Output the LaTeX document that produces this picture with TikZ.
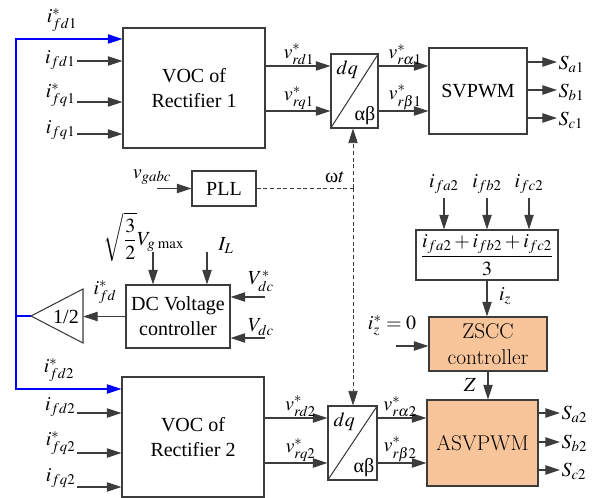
\documentclass[tikz,border=0pt]{standalone}
\usepackage{mathptmx}
\usepackage[no-math]{fontspec}
\setmainfont{Liberation Serif}
\newfontfamily\lmfont{Latin Modern Roman}
\usepackage{tikz}
\usetikzlibrary{arrows.meta,positioning}
\definecolor{zsccorange}{HTML}{F8C49A}
\definecolor{wiregray}{HTML}{3C3C3C}

\begin{document}
\begin{tikzpicture}[x=0.75pt,y=-0.75pt,font=\fontsize{15}{18.75}\selectfont,
  blk/.style={draw=wiregray,line width=0.8pt,align=center,inner sep=0pt},
  lmblk/.style={blk,fill=zsccorange,font=\lmfont\fontsize{16}{20}\selectfont},
  sig/.style={draw=wiregray,line width=0.8pt,-{Triangle[length=11pt,width=7pt]}},
  fbsig/.style={draw=blue,line width=0.8pt,-{Triangle[length=11pt,width=7pt]}},
  wtsig/.style={draw=wiregray,line width=0.7pt,dash pattern=on 3pt off 2pt,-{Triangle[length=11pt,width=7pt]}}]
\useasboundingbox (0,0) rectangle (605,498);
\clip (0,0) rectangle (605,498);
\node[blk,minimum width=106.5pt,minimum height=90pt] (voc1) at (194,88) {VOC of\\Rectifier 1};
\node[blk,minimum width=35.25pt,minimum height=55.5pt] (dq1) at (354.5,91) {};
\node[blk,minimum width=73.5pt,minimum height=64.5pt] (svpwm1) at (478,91) {SVPWM};
\node[blk,minimum width=48pt,minimum height=26.25pt] (pll) at (224,188.5) {PLL};
\node[blk,minimum width=106.5pt,minimum height=37.5pt] (zsum) at (487,255) {$\displaystyle\frac{i_{fa2}+i_{fb2}+i_{fc2}}{3}$};
\node[blk,minimum width=78pt,minimum height=47.25pt] (dcv) at (178,316.5) {DC Voltage\\controller};
\node[lmblk,minimum width=88.5pt,minimum height=40.5pt] (zscc) at (488,344) {ZSCC\\controller};
\node[lmblk,minimum width=83.25pt,minimum height=64.5pt] (asvpwm) at (482.5,443) {ASVPWM};
\node[blk,minimum width=106.5pt,minimum height=90pt] (voc2) at (193,437) {VOC of\\Rectifier 2};
\node[blk,minimum width=36.75pt,minimum height=55.5pt] (dq2) at (352.5,443) {};
% dq / alpha-beta transforms
\foreach \t in {dq1,dq2} {
  \draw[wiregray,line width=0.8pt] (\t.south west) -- (\t.north east);
  \node[anchor=north west,inner sep=0pt] at ([shift={(6,7)}]\t.north west) {$dq$};
  \node[anchor=south east,inner sep=0pt] at ([shift={(-3,-4)}]\t.south east) {αβ};
}
% gain 1/2
\coordinate (gtip) at (31,316);
\coordinate (gin) at (83,316);
\draw[wiregray,line width=0.8pt] (gtip) -- (83,289) -- (83,343) -- cycle;
\node (half) at (66,317) {1/2};
% feedback of i_fd*
\coordinate (fbsplit) at (16,316);
\coordinate (fbtop) at (16,39);
\coordinate (fbbot) at (16,389);
\draw[blue,line width=0.8pt] (gtip) -- (fbsplit);
\draw[fbsig] (fbsplit) -- (fbtop) -- (fbtop -| voc1.west);
\draw[fbsig] (fbsplit) -- (fbbot) -- (fbbot -| voc2.west);
\node at (62,20) {$i^{*}_{fd1}$};
\node at (59,370) {$i^{*}_{fd2}$};
% inputs of the VOC blocks
\foreach \y/\ly/\lbl [count=\k] in {61/60/{i_{fd1}},102/95/{i^{*}_{fq1}},134/130/{i_{fq1}}} {
  \coordinate (vocain\k) at (77,\y);
  \draw[sig] (vocain\k) -- (vocain\k -| voc1.west);
  \node[anchor=east,inner sep=1pt] at (77,\ly) {$\lbl$};
}
\foreach \y/\ly/\lbl [count=\k] in {413/407/{i_{fd2}},453/443/{i^{*}_{fq2}},487/478/{i_{fq2}}} {
  \coordinate (vocbin\k) at (77,\y);
  \draw[sig] (vocbin\k) -- (vocbin\k -| voc2.west);
  \node[anchor=east,inner sep=1pt] at (77,\ly) {$\lbl$};
}
% VOC -> dq -> PWM
\foreach \y/\v/\w [count=\k] in {66/{v^{*}_{rd1}}/{v^{*}_{r\alpha1}},111/{v^{*}_{rq1}}/{v^{*}_{r\beta1}}} {
  \coordinate (dqain\k) at (dq1.west |- 0,\y);
  \draw[sig] (voc1.east |- dqain\k) -- (dqain\k);
  \draw[sig] (dq1.east |- dqain\k) -- (svpwm1.west |- dqain\k);
  \node[anchor=south,inner sep=1pt] at ([xshift=25]voc1.east |- dqain\k) {$\v$};
  \node[anchor=south,inner sep=1pt] at ([xshift=20]dq1.east |- dqain\k) {$\w$};
}
\foreach \y/\v/\w [count=\k] in {418/{v^{*}_{rd2}}/{v^{*}_{r\alpha2}},463/{v^{*}_{rq2}}/{v^{*}_{r\beta2}}} {
  \coordinate (dqbin\k) at (dq2.west |- 0,\y);
  \draw[sig] (voc2.east |- dqbin\k) -- (dqbin\k);
  \draw[sig] (dq2.east |- dqbin\k) -- (asvpwm.west |- dqbin\k);
  \node[anchor=south,inner sep=1pt] at ([xshift=27]voc2.east |- dqbin\k) {$\v$};
  \node[anchor=south,inner sep=1pt] at ([xshift=17]dq2.east |- dqbin\k) {$\w$};
}
% switching signals
\foreach \y/\s in {62/a,90/b,118/c} {
  \coordinate (s\s1) at (557,\y);
  \draw[sig] (svpwm1.east |- s\s1) -- (s\s1);
  \node[anchor=west,inner sep=1pt] at ([yshift=-2]s\s1) {$S_{\s1}$};
}
\foreach \y/\s in {413/a,442/b,470/c} {
  \coordinate (s\s2) at (560,\y);
  \draw[sig] (asvpwm.east |- s\s2) -- (s\s2);
  \node[anchor=west,inner sep=1pt] at ([yshift=-1]s\s2) {$S_{\s2}$};
}
% PLL and angle
\coordinate (vgin) at (157,188.5);
\draw[sig] (vgin) -- (pll.west);
\node at (152,177) {$v_{gabc}$};
\coordinate (wt) at (353,188.5);
\draw[wiregray,line width=0.7pt,dash pattern=on 3pt off 2pt] (pll.east) -- (wt);
\draw[wtsig] (wt) -- (wt |- dq1.south);
\draw[wtsig] (wt) -- (wt |- dq2.north);
\node at (335,177) {ω$t$};
% zero-sequence current loop
\foreach \x/\p in {444/a,487/b,529/c} {
  \coordinate (if\p) at (\x,198);
  \draw[sig] (if\p) -- (if\p |- zsum.north);
  \node at (\x,184) {$i_{f\p2}$};
}
\draw[sig] (zsum.south) -- (zsum.south |- zscc.north);
\node at (505,296) {$i_{z}$};
\coordinate (izin) at (396,346);
\draw[sig] (izin) -- (izin -| zscc.west);
\node at (392,326) {$i^{*}_{z}=0$};
\draw[sig] (zscc.south) -- (zscc.south |- asvpwm.north);
\node at (470,385) {$Z$};
% DC voltage loop
\coordinate (vgm) at (153,252);
\coordinate (ilin) at (207,252);
\draw[sig] (vgm) -- (vgm |- dcv.north);
\draw[sig] (ilin) -- (ilin |- dcv.north);
\node at (144,237) {$\displaystyle\sqrt{\frac{3}{2}}V_{g\,\max}$};
\node at (226,246) {$I_{L}$};
\coordinate (vdcref) at (265,297);
\coordinate (vdcmes) at (265,338);
\draw[sig] (vdcref) -- (vdcref -| dcv.east);
\draw[sig] (vdcmes) -- (vdcmes -| dcv.east);
\node at (261,281) {$V^{*}_{dc}$};
\node at (261,327) {$V_{dc}$};
\draw[sig] (dcv.west) -- (dcv.west -| gin);
\node at (105,292) {$i^{*}_{fd}$};
\end{tikzpicture}
\end{document}
